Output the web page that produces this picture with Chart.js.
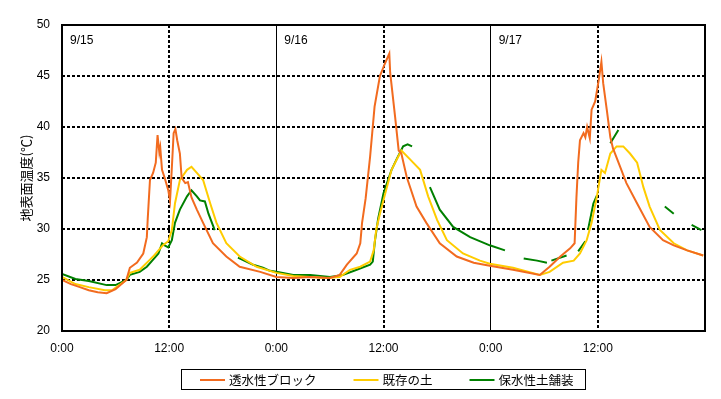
<!DOCTYPE html>
<html>
<head>
<meta charset="utf-8">
<script src="https://cdn.jsdelivr.net/npm/chart.js@4/dist/chart.umd.min.js"></script>
<style>
  html, body { margin: 0; padding: 0; background: #fff; }
  #wrap { width: 721px; height: 399px; }
</style>
</head>
<body>
<div id="wrap"><canvas id="tempChart" width="721" height="399"></canvas></div>
<script>
// series names and day labels
var seriesNames = ['透水性ブロック', '既存の土', '保水性土舗装'];
var dayLabels = ['9/15', '9/16', '9/17'];

// hours from 9/15 0:00
var orangeHours = [0, 1, 2, 3, 4, 5, 6, 7.2, 7.6, 8.4, 9.1, 9.5, 9.6, 9.85, 10.2, 10.5, 10.7, 10.9, 11.0, 11.2, 11.5, 11.9, 12.1, 12.3, 12.5, 12.7, 12.9, 13.2, 13.4, 13.8, 14.1, 14.5, 15.1, 15.8, 16.9, 18.4, 19.9, 22.2, 24.0,
  25.9, 27.8, 30.0, 31.1, 31.9, 33.0, 33.4, 33.6, 34.0, 34.5, 35.0, 35.6, 36.2, 36.65, 36.75, 37.3, 37.7, 38.0, 38.6, 39.7, 40.8, 42.3, 44.2, 46.1, 47.9,
  50.5, 53.5, 54.6, 55.8, 56.9, 57.4, 57.6, 57.8, 58.0, 58.4, 58.6, 58.8, 59.1, 59.3, 59.7, 60.1, 60.4, 60.6, 61.0, 61.4, 61.7, 62.5, 63.2, 64.4, 65.8, 67.3, 68.5, 70.0, 71.8];
var orangeTemps = [25.0, 24.6, 24.3, 24.0, 23.8, 23.7, 24.1, 25.0, 26.2, 26.7, 27.6, 29.2, 31.0, 34.8, 35.5, 36.5, 39.2, 37.5, 38.0, 35.8, 35.0, 33.8, 32.8, 36.0, 39.4, 39.8, 38.7, 37.4, 35.0, 34.5, 34.6, 33.1, 31.9, 30.6, 28.6, 27.3, 26.3, 25.8, 25.3,
  25.2, 25.3, 25.2, 25.5, 26.5, 27.6, 28.6, 30.6, 33.0, 37.1, 42.0, 45.0, 46.3, 47.2, 45.3, 41.0, 37.7, 37.4, 35.1, 32.2, 30.6, 28.6, 27.3, 26.7, 26.4,
  26.0, 25.5, 26.3, 27.3, 28.1, 28.6, 33.0, 36.5, 38.7, 39.4, 39.0, 40.0, 38.9, 41.7, 42.5, 44.6, 46.4, 44.3, 41.7, 39.0, 37.9, 36.1, 34.5, 32.5, 30.2, 28.9, 28.4, 27.9, 27.4];

var yellowHours = [0, 1.5, 3, 4.8, 5.6, 7.2, 7.6, 8.7, 9.85, 10.2, 10.8, 11.3, 11.9, 12.3, 12.65, 13.2, 14.0, 14.5, 15.1, 15.8, 16.6, 17.3, 18.4, 19.9, 21.8, 24.0,
  25.9, 29.6, 31.1, 32.25, 33.4, 34.5, 34.9, 35.2, 35.6, 36.2, 36.9, 38.0, 39.0, 40.1, 41.0, 42.0, 43.1, 44.9, 46.8, 47.9,
  50.5, 53.5, 54.6, 56.1, 57.3, 58.0, 58.75, 59.3, 59.9, 60.2, 60.4, 60.8, 61.4, 62.1, 62.85, 63.6, 64.4, 65.1, 65.8, 66.95, 68.5, 70.0, 71.8];
var yellowTemps = [25.3, 24.6, 24.3, 24.0, 24.0, 25.0, 25.7, 26.0, 27.0, 27.3, 27.9, 28.4, 28.8, 29.9, 32.5, 34.8, 35.8, 36.1, 35.5, 34.8, 32.5, 30.6, 28.6, 27.3, 26.3, 25.7,
  25.4, 25.2, 25.3, 26.0, 26.3, 26.8, 27.9, 30.0, 31.5, 33.5, 35.8, 37.7, 36.8, 35.8, 33.2, 30.9, 28.9, 27.6, 26.9, 26.6,
  26.2, 25.5, 25.8, 26.7, 26.9, 27.6, 28.9, 30.6, 33.2, 34.8, 35.8, 35.5, 37.4, 38.1, 38.1, 37.4, 36.5, 34.1, 32.2, 29.9, 28.6, 27.9, 27.4];

// null = missing record
var greenHours = [0, 1.5, 3, 5, 6, 7.2, 7.6, 8.7, 9.5, 10.2, 10.8, 11.2, 11.5, 11.9, 12.3, 12.65, 13.2, 14.0, 14.5, 15.1, 15.45, 16.0, 16.4, 17.1, 18.4, 19.7, 21.4, 22.5, 23.3, 24.0,
  25.9, 27.8, 30.0, 31.5, 33.0, 34.5, 34.8, 35.05, 35.4, 36.0, 36.9, 37.5, 38.2, 38.7, 39.2, 40.2, 41.2, 42.3, 43.8, 45.7, 47.9, 49.6,
  50.6, 51.7, 53.2, 54.3, 54.55, 54.8, 56.5, 57.2, 57.8, 58.6, 58.75, 58.9, 59.5, 59.9, 60.6, 61.4, 62.3, 65.0, 67.5, 68.5, 69.5, 70.5, 71.6];
var greenTemps = [25.6, 25.1, 24.9, 24.5, 24.5, 25.0, 25.5, 25.8, 26.3, 27.0, 27.6, 28.6, 28.4, 28.2, 28.9, 30.6, 31.9, 33.2, 33.8, 33.2, 32.8, 32.7, 31.5, 29.9, null, 27.2, 26.5, 26.2, 25.9, 25.8,
  25.5, 25.5, 25.3, 25.5, 26.0, 26.5, 26.8, 28.9, 31.0, 33.5, 35.8, 36.9, 38.1, 38.3, 38.1, null, 34.1, 31.9, 30.2, 29.2, 28.4, 27.9,
  null, 27.1, 26.9, 26.7, null, 26.9, 27.4, null, 27.8, 28.8, null, 29.9, 32.5, 33.3, null, 38.4, 39.7, null, 32.2, 31.5, null, 30.4, 29.9];

var lineColors = ['#F26B1F', '#FFCC00', '#008000'];

function toPoints(hours, temps) {
    return hours.map(function (h, i) {
        return {x: h, y: temps[i]};
    });
}

var jpFont = '"Noto Sans CJK JP", sans-serif';
var numFont = '"Liberation Sans", Arial, sans-serif';

Chart.defaults.font.family = numFont;
Chart.defaults.font.size = 12;
Chart.defaults.color = '#000';

/* frame, day labels and the boxed legend at the bottom */
var extras = {
    id: 'extras',
    afterDraw: function (chart) {
        var ctx = chart.ctx;
        var a = chart.chartArea;
        var xs = chart.scales.x;
        ctx.save();
        ctx.strokeStyle = '#000';
        ctx.lineWidth = 2;
        ctx.strokeRect(a.left, a.top, a.right - a.left, a.bottom - a.top);

        ctx.fillStyle = '#000';
        ctx.font = '12px ' + numFont;
        ctx.textBaseline = 'middle';
        ctx.textAlign = 'left';
        for (var d = 0; d < dayLabels.length; d++) {
            ctx.fillText(dayLabels[d], xs.getPixelForValue(d * 24) + 8, a.top + 16);
        }

        // legend
        var boxL = 181, boxT = 369, boxW = 404, boxH = 20;
        ctx.lineWidth = 1;
        ctx.strokeRect(boxL + 0.5, boxT + 0.5, boxW, boxH);
        ctx.font = '12.5px ' + jpFont;
        var x = boxL + 19, yMid = boxT + 11;
        chart.data.datasets.forEach(function (ds) {
            ctx.strokeStyle = ds.borderColor;
            ctx.lineWidth = 2;
            ctx.beginPath();
            ctx.moveTo(x, yMid);
            ctx.lineTo(x + 25, yMid);
            ctx.stroke();
            ctx.fillStyle = '#000';
            ctx.fillText(ds.label, x + 29, yMid);
            x += 29 + ctx.measureText(ds.label).width + 37;
        });
        ctx.restore();
    }
};

var ctx = document.getElementById('tempChart').getContext('2d');
var tempChart = new Chart(ctx, {
    type: 'line',
    data: {
        datasets: [
            {label: seriesNames[0], data: toPoints(orangeHours, orangeTemps), borderColor: lineColors[0]},
            {label: seriesNames[1], data: toPoints(yellowHours, yellowTemps), borderColor: lineColors[1]},
            {label: seriesNames[2], data: toPoints(greenHours, greenTemps), borderColor: lineColors[2]}
        ]
    },
    options: {
        responsive: false,
        animation: false,
        layout: {padding: {left: 0, top: 25, right: 16, bottom: 38}},
        elements: {
            line: {borderWidth: 2, tension: 0, fill: false},
            point: {radius: 0}
        },
        spanGaps: false,
        plugins: {
            legend: {display: false},
            tooltip: {enabled: false}
        },
        scales: {
            x: {
                type: 'linear',
                min: 0,
                max: 72,
                afterFit: function (s) { s.height = 30; },
                ticks: {
                    stepSize: 12,
                    padding: 10,
                    maxRotation: 0,
                    callback: function (v) {
                        if (v >= 72) return '';
                        return (v % 24) + ':00';
                    }
                },
                grid: {
                    drawTicks: false,
                    color: function (c) {
                        var v = c.tick ? c.tick.value : 0;
                        return (v === 0 || v === 72) ? 'rgba(0,0,0,0)' : '#000';
                    },
                    lineWidth: function (c) {
                        var v = c.tick ? c.tick.value : 0;
                        return v % 24 === 0 ? 1 : 2;
                    }
                },
                border: {
                    display: false,
                    dash: function (c) {
                        var v = c.tick ? c.tick.value : 0;
                        return v % 24 === 0 ? [] : [3, 2];
                    }
                }
            },
            y: {
                min: 20,
                max: 50,
                afterFit: function (s) { s.width = 62; },
                ticks: {stepSize: 5, padding: 12},
                title: {
                    display: true,
                    text: '地表面温度(℃)',
                    font: {family: jpFont, size: 13},
                    padding: {top: 18, bottom: 0}
                },
                grid: {
                    drawTicks: false,
                    lineWidth: 2,
                    color: function (c) {
                        var v = c.tick ? c.tick.value : 0;
                        return (v === 20 || v === 50) ? 'rgba(0,0,0,0)' : '#000';
                    }
                },
                border: {display: false, dash: [3, 2]}
            }
        }
    },
    plugins: [extras]
});
</script>
</body>
</html>
